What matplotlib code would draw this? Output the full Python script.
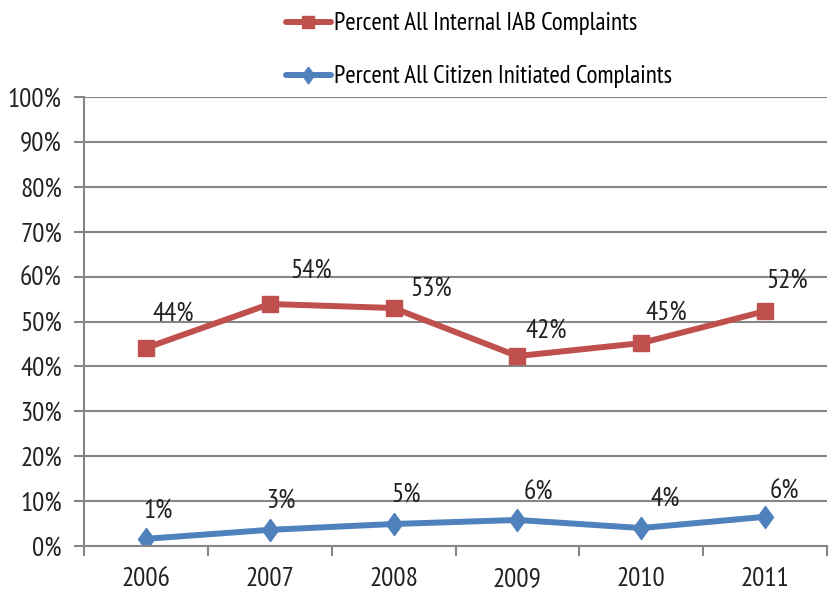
import matplotlib

matplotlib.use("Agg")
import matplotlib.pyplot as plt
from matplotlib import font_manager

years = ["2006", "2007", "2008", "2009", "2010", "2011"]
internal_pct = [44.1, 53.9, 53.0, 42.3, 45.2, 52.3]
citizen_pct = [1.6, 3.6, 4.9, 5.8, 4.0, 6.5]
internal_labels = ["44%", "54%", "53%", "42%", "45%", "52%"]
citizen_labels = ["1%", "3%", "5%", "6%", "4%", "6%"]
y_ticks = list(range(0, 101, 10))

# label offsets in points (label centre relative to marker)
internal_off = [(20, 25), (30, 24), (27, 14), (21, 18), (18, 22), (16, 22)]
citizen_off = [(9, 20), (8, 21), (9, 21), (15, 20), (17, 21), (14, 18)]

names = {f.name for f in font_manager.fontManager.ttflist}
for cand in ["PT Sans Narrow", "Archivo Narrow", "Carlito"]:
    if cand in names:
        plt.rcParams["font.family"] = [cand, "DejaVu Sans"]
        break
else:
    plt.rcParams["font.family"] = ["DejaVu Sans"]
    plt.rcParams["font.stretch"] = "condensed"

RED = "#C0504D"
BLUE = "#4F81BD"
GRID = "#868686"
TXT = "#222222"
FS = 19.5
DIAMOND = [(0, 1), (0.72, 0), (0, -1), (-0.72, 0), (0, 1)]

fig = plt.figure(figsize=(8.33, 5.98), dpi=100)
ax = fig.add_axes([84 / 833, 1 - 546 / 598, (827 - 84) / 833, (546 - 97) / 598])

x = list(range(len(years)))
l1, = ax.plot(x, internal_pct, color=RED, lw=4.3, marker="s", ms=12,
              solid_capstyle="round", label="Percent All Internal IAB Complaints")
l2, = ax.plot(x, citizen_pct, color=BLUE, lw=4.3, marker=DIAMOND, ms=16,
              solid_capstyle="round", label="Percent All Citizen Initiated Complaints")

for xi, v, lab, off in zip(x, internal_pct, internal_labels, internal_off):
    ax.annotate(lab, (xi, v), xytext=off, textcoords="offset points",
                ha="center", va="center", fontsize=FS, color=TXT)
for xi, v, lab, off in zip(x, citizen_pct, citizen_labels, citizen_off):
    ax.annotate(lab, (xi, v), xytext=off, textcoords="offset points",
                ha="center", va="center", fontsize=FS, color=TXT)

ax.set_xlim(-0.5, len(years) - 0.5)
ax.set_ylim(0, 100)
ax.set_yticks(y_ticks)
ax.set_yticklabels([f"{t}%" for t in y_ticks], fontsize=FS, color=TXT)
ax.set_xticks(x)
ax.set_xticklabels(years, fontsize=FS, color=TXT)
ax.set_xticks([i - 0.5 for i in range(len(years) + 1)], minor=True)
ax.tick_params(axis="x", which="major", length=0, pad=15)
ax.tick_params(axis="x", which="minor", length=7, width=1.5, color=GRID)
ax.tick_params(axis="y", length=7, width=1.5, color=GRID, pad=9)

ax.grid(axis="y", color=GRID, lw=1.5)
ax.set_axisbelow(True)
for s in ["top", "right"]:
    ax.spines[s].set_visible(False)
for s in ["left", "bottom"]:
    ax.spines[s].set_color(GRID)
    ax.spines[s].set_linewidth(1.5)

fig.legend(handles=[l1, l2], loc="upper left", bbox_to_anchor=(263 / 833, 1.017),
           frameon=False, fontsize=18, labelspacing=1.2, handlelength=1.8,
           handletextpad=0.15, markerscale=0.75)

fig.savefig("out.png", dpi=100)
